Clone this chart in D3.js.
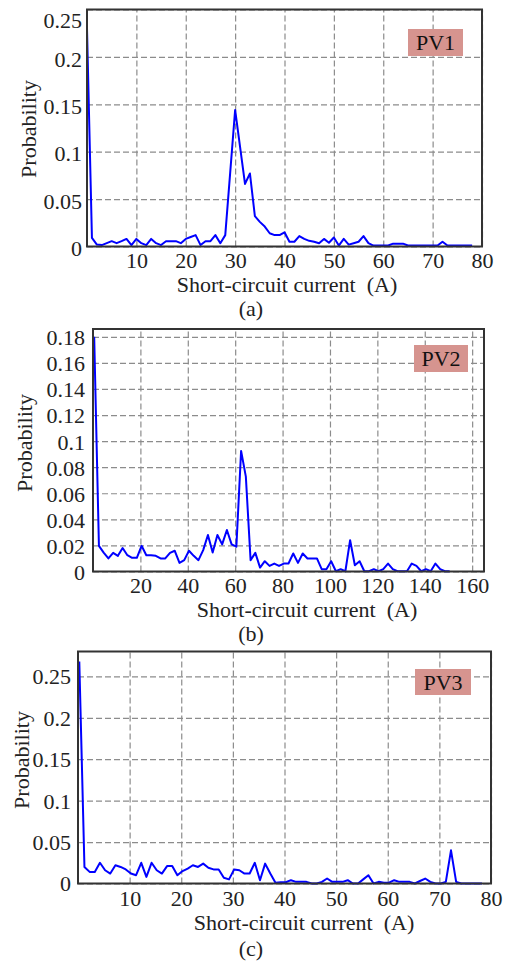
<!DOCTYPE html>
<html>
<head>
<meta charset="utf-8">
<script src="https://cdn.jsdelivr.net/npm/d3@7"></script>
<style>
  body { margin: 0; background: #fff; }
  text { font-family: "Liberation Serif", "Times New Roman", serif; }
</style>
</head>
<body>
<div id="chart"></div>
<script>
// probability per current bin
const pv1Values = [0.23, 0.009, 0.002, 0.0015, 0.0035, 0.0056, 0.0035, 0.0056, 0.008, 0.0015,
    0.008, 0.0035, 0.0015, 0.008, 0.0035, 0.0015, 0.0056, 0.0056, 0.0056, 0.0035,
    0.008, 0.01, 0.012, 0.0015, 0.0056, 0.0056, 0.012, 0.0035, 0.012, 0.078,
    0.144, 0.105, 0.066, 0.077, 0.032, 0.026, 0.021, 0.014, 0.012, 0.012,
    0.015, 0.005, 0.005, 0.011, 0.008, 0.006, 0.005, 0.0035, 0.008, 0.004,
    0.0095, 0.001, 0.008, 0.002, 0.0035, 0.005, 0.011, 0.0035, 0.001, 0.001,
    0.001, 0.001, 0.003, 0.003, 0.003, 0.001, 0.001, 0.001, 0.001, 0.001,
    0.001, 0.001, 0.005, 0.001, 0.001, 0.001, 0.001, 0.001, 0.001];

const pv2Values = [0.18, 0.0197, 0.0145, 0.010, 0.0143, 0.012, 0.018, 0.0125, 0.0105, 0.0105,
    0.0197, 0.0125, 0.0125, 0.012, 0.010, 0.010, 0.0143, 0.0159, 0.0066, 0.0087,
    0.0159, 0.012, 0.0087, 0.0164, 0.028, 0.0146, 0.028, 0.0208, 0.0318, 0.0208,
    0.019, 0.0925, 0.0728, 0.0087, 0.0143, 0.003, 0.0079, 0.0043, 0.0061, 0.0043,
    0.0061, 0.0061, 0.0138, 0.0066, 0.0138, 0.010, 0.010, 0.010, 0.0018, 0.0018,
    0.0079, 0.0002, 0.0018, 0.0002, 0.024, 0.0048, 0.0079, 0.0002, 0.0002, 0.0018,
    0.0002, 0.0018, 0.0061, 0.0018, 0.0002, 0.0002, 0.0002, 0.0061, 0.0043, 0.0002,
    0.0018, 0.0002, 0.0061, 0.0018, 0.0002, 0.0002];

const pv3Values = [0.268, 0.020, 0.014, 0.014, 0.025, 0.016, 0.012, 0.022, 0.020, 0.017,
    0.012, 0.010, 0.025, 0.008, 0.025, 0.016, 0.012, 0.021, 0.021, 0.010,
    0.015, 0.018, 0.022, 0.020, 0.024, 0.019, 0.017, 0.017, 0.007, 0.005,
    0.017, 0.016, 0.012, 0.012, 0.025, 0.004, 0.024, 0.012, 0.001, 0.0015,
    0.0015, 0.004, 0.002, 0.002, 0.002, 0, 0, 0.002, 0.006, 0.002,
    0.002, 0.002, 0.004, 0, 0, 0.005, 0.010, 0, 0.002, 0.001,
    0.001, 0.004, 0.002, 0.002, 0.002, 0, 0.003, 0.006, 0.002, 0,
    0, 0.002, 0.040, 0.002, 0, 0, 0, 0, 0];

// bin start / width (A)
const pv1Bins = { start: 0, step: 1 };
const pv2Bins = { start: 0.5, step: 2 };
const pv3Bins = { start: 0.25, step: 1 };

// tick labels
const pv1XTicks = [10, 20, 30, 40, 50, 60, 70, 80];
const pv1YTicks = [0, 0.05, 0.1, 0.15, 0.2, 0.25];
const pv2XTicks = [20, 40, 60, 80, 100, 120, 140, 160];
const pv2YTicks = [0, 0.02, 0.04, 0.06, 0.08, 0.1, 0.12, 0.14, 0.16, 0.18];
const pv3XTicks = [10, 20, 30, 40, 50, 60, 70, 80];
const pv3YTicks = [0, 0.05, 0.1, 0.15, 0.2, 0.25];

const svg = d3.select("#chart")
    .append("svg")
    .attr("width", 506)
    .attr("height", 963);

function drawPanel(p) {
    const w = p.right - p.left;
    const h = p.bottom - p.top;

    const x = d3.scaleLinear().domain(p.xDomain).range([p.left, p.right]);
    const y = d3.scaleLinear().domain(p.yDomain).range([p.bottom, p.top]);

    const g = svg.append("g");

    // x grid + labels
    const xAxis = g.append("g")
        .attr("transform", `translate(0, ${p.bottom})`)
        .call(d3.axisBottom(x)
            .tickValues(p.xTicks)
            .tickSizeInner(-h)
            .tickSizeOuter(0)
            .tickPadding(p.xPad)
            .tickFormat(d3.format("")));
    xAxis.select(".domain").remove();

    // y grid + labels
    const yAxis = g.append("g")
        .attr("transform", `translate(${p.left}, 0)`)
        .call(d3.axisLeft(y)
            .tickValues(p.yTicks)
            .tickSizeInner(-w)
            .tickSizeOuter(0)
            .tickPadding(p.yPad)
            .tickFormat(d => d === 0 ? "0" : String(+d.toFixed(3))));
    yAxis.select(".domain").remove();

    g.selectAll(".tick line")
        .attr("stroke", "#8c8c8c")
        .attr("stroke-width", 1.2)
        .attr("stroke-dasharray", "6,3");
    g.selectAll(".tick text")
        .attr("fill", "#222")
        .attr("font-size", 22)
        .attr("font-family", "'Liberation Serif', 'Times New Roman', serif");
    yAxis.selectAll(".tick text").attr("dy", p.yDy);
    // top label sits lower so it stays inside the frame
    yAxis.selectAll(".tick text")
        .filter(d => d === p.yDomain[1])
        .attr("dy", "0.8em");

    // the data line
    const pts = p.values.map((v, i) => [p.bins.start + i * p.bins.step, v]);
    g.append("path")
        .datum(pts)
        .attr("fill", "none")
        .attr("stroke", "#0000ff")
        .attr("stroke-width", 2)
        .attr("stroke-linejoin", "round")
        .attr("d", d3.line().x(d => x(d[0])).y(d => y(d[1])));

    // frame
    g.append("rect")
        .attr("x", p.left)
        .attr("y", p.top)
        .attr("width", w)
        .attr("height", h)
        .attr("fill", "none")
        .attr("stroke", "#333")
        .attr("stroke-width", 2);

    // PV tag
    g.append("rect")
        .attr("x", p.tag[0])
        .attr("y", p.tag[1])
        .attr("width", p.tag[2])
        .attr("height", p.tag[3])
        .attr("fill", "#d6948f");
    g.append("text")
        .attr("x", p.tag[0] + p.tag[2] / 2)
        .attr("y", p.tag[1] + p.tag[3] / 2)
        .attr("dy", "0.35em")
        .attr("text-anchor", "middle")
        .attr("font-size", 22)
        .attr("fill", "#111")
        .text(p.name);

    // axis titles
    g.append("text")
        .attr("x", p.xLabel[0])
        .attr("y", p.xLabel[1])
        .attr("text-anchor", "middle")
        .attr("font-size", 22)
        .attr("fill", "#222")
        .style("white-space", "pre")
        .text("Short-circuit current  (A)");

    g.append("text")
        .attr("transform", `translate(${p.yLabel[0]}, ${p.yLabel[1]}) rotate(-90)`)
        .attr("text-anchor", "middle")
        .attr("font-size", 22)
        .attr("fill", "#222")
        .text("Probability");

    g.append("text")
        .attr("x", p.caption[0])
        .attr("y", p.caption[1])
        .attr("text-anchor", "middle")
        .attr("font-size", 22)
        .attr("fill", "#222")
        .text(p.captionText);
}

drawPanel({
    name: "PV1", values: pv1Values, bins: pv1Bins,
    xDomain: [0, 80], yDomain: [0, 0.25], xTicks: pv1XTicks, yTicks: pv1YTicks,
    left: 87, right: 482, top: 9.5, bottom: 246.5,
    xPad: 6, yPad: 5, yDy: "0.42em",
    tag: [408, 29, 55, 27],
    xLabel: [287, 292], yLabel: [36, 129], caption: [251, 316], captionText: "(a)"
});

drawPanel({
    name: "PV2", values: pv2Values, bins: pv2Bins,
    xDomain: [0, 165], yDomain: [0, 0.186], xTicks: pv2XTicks, yTicks: pv2YTicks,
    left: 93, right: 484, top: 329, bottom: 571.5,
    xPad: 5.5, yPad: 8, yDy: "0.36em",
    tag: [414, 345, 54, 27],
    xLabel: [307, 617], yLabel: [32, 443], caption: [251, 641], captionText: "(b)"
});

drawPanel({
    name: "PV3", values: pv3Values, bins: pv3Bins,
    xDomain: [0, 80], yDomain: [0, 0.28], xTicks: pv3XTicks, yTicks: pv3YTicks,
    left: 78, right: 491, top: 651.5, bottom: 883.5,
    xPad: 6.5, yPad: 7, yDy: "0.34em",
    tag: [415, 669, 56, 26],
    xLabel: [304, 930], yLabel: [29, 760], caption: [251, 956], captionText: "(c)"
});
</script>
</body>
</html>
